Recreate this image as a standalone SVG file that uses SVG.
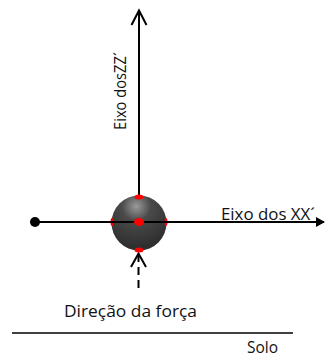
<svg xmlns="http://www.w3.org/2000/svg" width="331" height="358" viewBox="0 0 331 358">
<style>
.ax{stroke:#000;stroke-width:2;fill:none}
.lbl{font-family:"Open Sans","Liberation Sans",Arial,sans-serif;font-size:16.5px;fill:#111}
.red{fill:#ff0000}
</style>
<defs>
<radialGradient id="ball" cx="0.45" cy="0.2" r="0.75">
<stop offset="0" stop-color="#9a9a9a"/>
<stop offset="0.35" stop-color="#4a4a4a"/>
<stop offset="1" stop-color="#2e2e2e"/>
</radialGradient>
<marker id="filled" markerWidth="10" markerHeight="10" refX="8" refY="5" orient="auto" markerUnits="userSpaceOnUse">
<path d="M0,0 L9,5 L0,10 Z" fill="#000"/>
</marker>
</defs>
<rect width="331" height="358" fill="#fff"/>
<g id="connectors">
<g id="z-axis">
<line class="ax" x1="139" y1="11" x2="139" y2="200"/>
<polyline class="ax" points="131.5,25 139,10.5 146.5,25"/>
</g>
<g id="force-arrow">
<line class="ax" x1="138.5" y1="254" x2="138.5" y2="290" stroke-dasharray="8 5"/>
<polyline class="ax" points="131,267 138.5,253.5 146,267"/>
</g>
</g>
<g id="ball-node">
<circle cx="139" cy="223" r="27.5" fill="url(#ball)"/>
<ellipse class="red" cx="139" cy="197" rx="4.5" ry="2.5"/>
<ellipse class="red" cx="139" cy="250" rx="4.5" ry="2.5"/>
<ellipse class="red" cx="112" cy="222" rx="1.5" ry="4"/>
<ellipse class="red" cx="166" cy="222" rx="1.5" ry="4"/>
</g>
<g id="x-axis">
<line class="ax" x1="35" y1="222" x2="324" y2="222" marker-end="url(#filled)"/>
<circle cx="35" cy="222" r="5" fill="#000"/>
<ellipse class="red" cx="139" cy="222" rx="5" ry="4"/>
</g>
<g id="labels">
<text class="lbl" x="0" y="0" transform="translate(125.5,130) rotate(-90)" textLength="78" lengthAdjust="spacingAndGlyphs">Eixo dosZZ´</text>
<text class="lbl" x="221" y="219.5" textLength="94" lengthAdjust="spacingAndGlyphs">Eixo dos XX´</text>
<text class="lbl" x="64" y="316.5" textLength="133" lengthAdjust="spacingAndGlyphs">Direção da força</text>
<text class="lbl" x="247" y="352.5" textLength="31" lengthAdjust="spacingAndGlyphs">Solo</text>
</g>
<g id="ground">
<line x1="12" y1="333" x2="293" y2="333" stroke="#000" stroke-width="1.5"/>
</g>
</svg>
